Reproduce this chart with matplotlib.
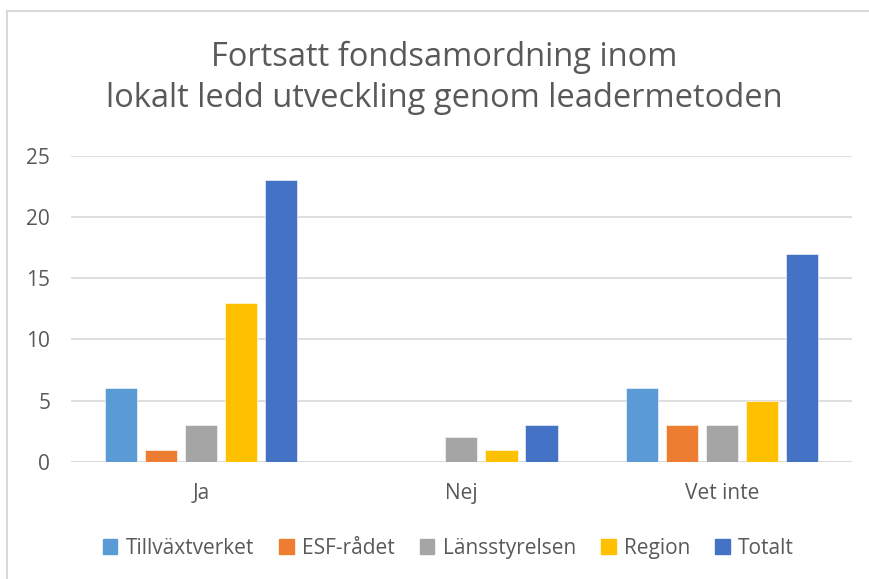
import numpy as np
import matplotlib.pyplot as plt
from matplotlib.lines import Line2D

plt.rcParams['font.family'] = ['Open Sans', 'DejaVu Sans']

# data
categories = ['Ja', 'Nej', 'Vet inte']
series_names = ['Tillväxtverket', 'ESF-rådet', 'Länsstyrelsen', 'Region', 'Totalt']
tillvaxtverket = [6, 0, 6]
esf_radet = [1, 0, 3]
lansstyrelsen = [3, 2, 3]
region = [13, 1, 5]
totalt = [23, 3, 17]
yticks = [0, 5, 10, 15, 20, 25]

colors = ['#5B9BD5', '#ED7D31', '#A5A5A5', '#FFC000', '#4472C4']
values = [tillvaxtverket, esf_radet, lansstyrelsen, region, totalt]

fig = plt.figure(figsize=(8.69, 5.79), dpi=100)
ax = fig.add_axes([0.0817, 0.2021, 0.8987, 0.5293])

x = np.arange(len(categories))
step = 0.1537
width = 0.123
for i, (vals, c, name) in enumerate(zip(values, colors, series_names)):
    ax.bar(x + (i - 2) * step, vals, width, color=c, label=name,
           edgecolor='white', linewidth=0.4, zorder=3)

ax.set_xlim(-0.5, 2.5)
ax.set_ylim(0, 25)
ax.set_yticks(yticks)
ax.yaxis.grid(True, color='#D9D9D9', linewidth=1.2, zorder=0)
for s in ax.spines.values():
    s.set_visible(False)
ax.axhline(0, color='#D9D9D9', linewidth=1.2, zorder=2)
ax.tick_params(axis='both', length=0, labelsize=15, colors='#595959')
ax.tick_params(axis='y', pad=15)
ax.tick_params(axis='x', pad=15)
ax.set_xticks(x)
ax.set_xticklabels(categories)

fig.text(0.511, 0.866, 'Fortsatt fondsamordning inom\nlokalt ledd utveckling genom leadermetoden',
         ha='center', va='center', fontsize=23.5, color='#595959', linespacing=1.32)

handles = [plt.Rectangle((0, 0), 1, 1, color=c) for c in colors]
fig.legend(handles, series_names, loc='center', bbox_to_anchor=(0.516, 0.053),
           ncol=5, frameon=False, fontsize=15, labelcolor='#595959',
           handlelength=0.7, handleheight=0.7, handletextpad=0.4, columnspacing=1.2)

# chart border (only left and top visible in crop)
fig.add_artist(Line2D([7 / 869, 7 / 869], [0, 1 - 11 / 579], color='#D9D9D9', lw=1.5))
fig.add_artist(Line2D([7 / 869, 1], [1 - 11 / 579, 1 - 11 / 579], color='#D9D9D9', lw=1.5))

fig.savefig('out.png', dpi=100)
